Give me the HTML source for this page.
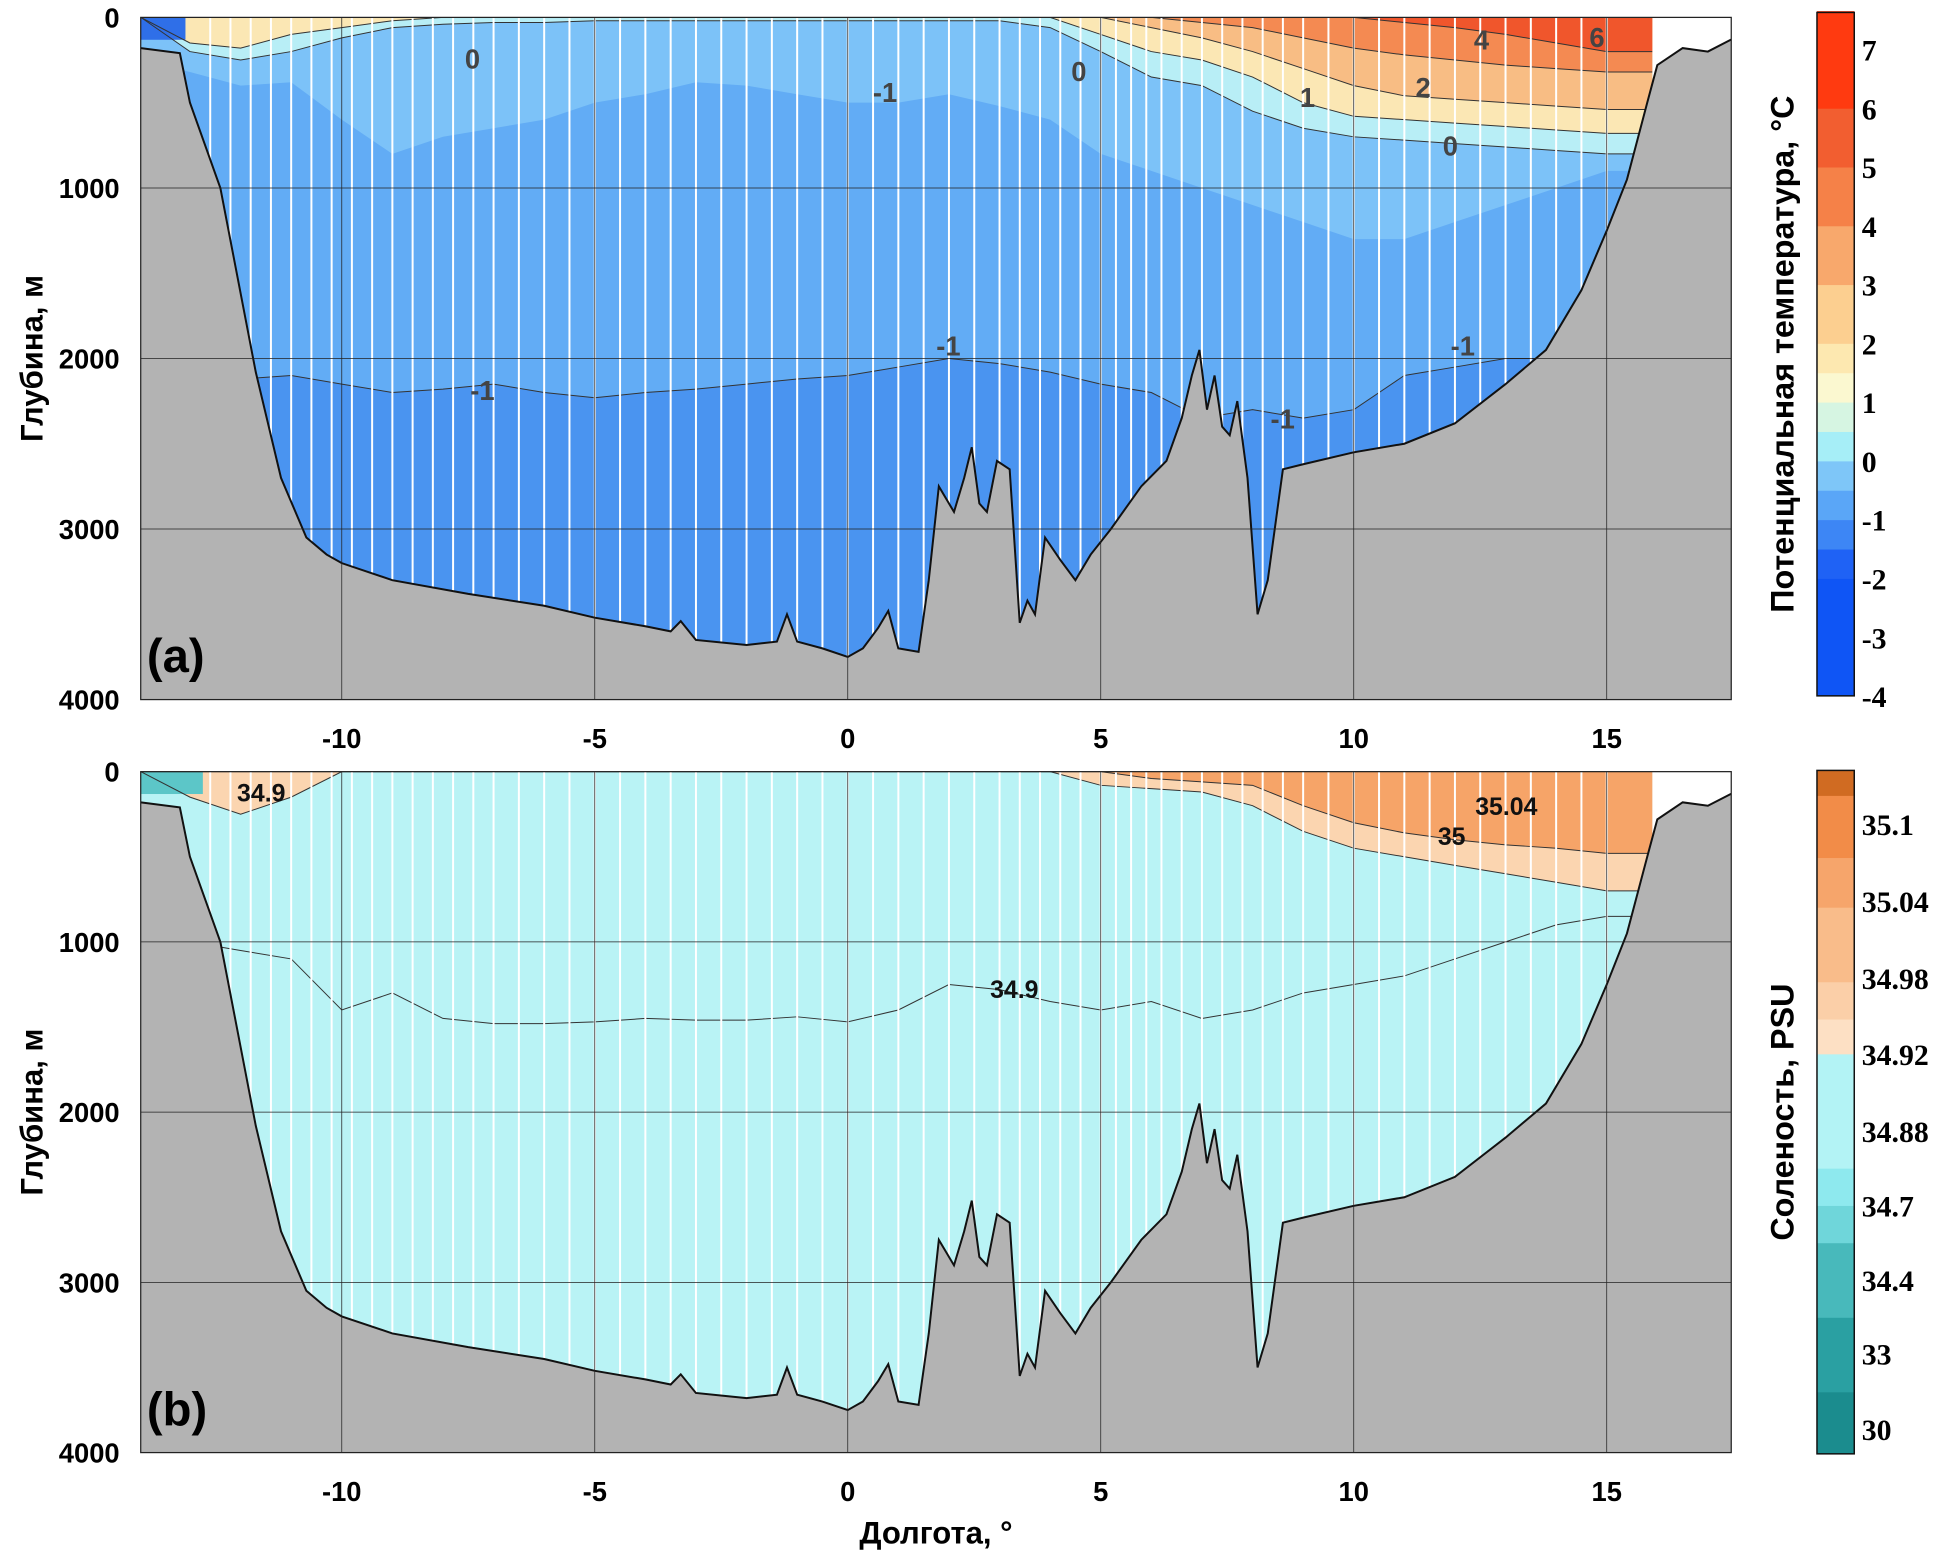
<!DOCTYPE html>
<html><head><meta charset="utf-8"><style>
html,body{margin:0;padding:0;background:#fff;}
svg{display:block;}
text{font-family:"Liberation Sans",sans-serif;font-weight:bold;}
.ser{font-family:"Liberation Serif",serif;}
</style></head><body>
<svg id="fig" width="1949" height="1552" viewBox="0 0 1568 1249" xmlns="http://www.w3.org/2000/svg"></svg>
<script>
// ---- data ----
const bathyLon=[-13.97,-13.2,-13.0,-12.4,-11.7,-11.2,-10.7,-10.3,-10,-9,-7.5,-6,-5,-4,-3.5,-3.3,-3,-2,-1.4,-1.2,-1,-0.5,0,0.3,0.6,0.8,1.0,1.4,1.6,1.8,2.1,2.3,2.45,2.6,2.75,2.95,3.2,3.4,3.55,3.7,3.9,4.2,4.5,4.8,5.2,5.8,6.3,6.6,6.8,6.95,7.1,7.25,7.4,7.55,7.7,7.9,8.1,8.3,8.6,9,10,11,12,13,13.8,14.5,15,15.4,15.8,16,16.5,17,17.46];
const bathyDep=[180,210,500,1000,2080,2700,3050,3150,3200,3300,3380,3450,3520,3570,3600,3540,3650,3680,3660,3500,3660,3700,3750,3700,3580,3480,3700,3720,3300,2750,2900,2700,2520,2850,2900,2600,2650,3550,3420,3500,3050,3180,3300,3150,3000,2750,2600,2350,2100,1950,2300,2100,2400,2450,2250,2700,3500,3300,2650,2620,2550,2500,2380,2150,1950,1600,1250,950,500,280,180,200,130];
const stationLon=[-12.6,-12.2,-11.8,-11.4,-11,-10.6,-10.2,-9.8,-9.4,-9,-8.6,-8.2,-7.8,-7.4,-7,-6.5,-6,-5.5,-5,-4.5,-4,-3.5,-3,-2.5,-2,-1.5,-1,-0.5,0,0.5,1,1.5,2,2.5,3,3.4,3.8,4.2,4.6,5,5.3,5.6,5.9,6.2,6.6,7,7.4,7.8,8.2,8.6,9,9.5,10,10.5,11,11.5,12,12.5,13,13.5,14,14.5,15];
// temperature isolines (depths in m)
const tLon=[-13.97,-13,-12,-11,-10,-9,-8,-7,-6,-5,-4,-3,-2,-1,0,1,2,3,4,5,6,7,8,9,10,11,12,13,14,15,16];
const tDeepM1=[2150,2150,2120,2100,2150,2200,2180,2150,2200,2230,2200,2180,2150,2120,2100,2050,2000,2030,2080,2150,2200,2350,2300,2350,2300,2100,2050,2000,2000,2000,2000];
const tUpper=[250,320,400,380,600,800,700,650,600,500,450,380,400,450,500,500,450,520,600,800,900,1000,1100,1200,1300,1300,1200,1100,1000,900,900];
const tZero=[0,200,250,200,120,60,40,30,30,20,20,20,20,20,20,20,20,20,60,200,350,400,550,650,700,720,740,760,780,800,800];
const tOne=[0,150,180,100,60,20,0,0,0,0,0,0,0,0,0,0,0,0,0,100,200,250,350,500,580,600,620,640,660,680,680];
const tTwo=[0,0,0,0,0,0,0,0,0,0,0,0,0,0,0,0,0,0,0,0,60,120,200,300,400,460,480,500,520,540,540];
const tFour=[0,0,0,0,0,0,0,0,0,0,0,0,0,0,0,0,0,0,0,0,0,30,60,120,180,220,250,280,300,320,320];
const tSix=[0,0,0,0,0,0,0,0,0,0,0,0,0,0,0,0,0,0,0,0,0,0,0,0,0,30,60,100,150,200,200];
// salinity isolines
const sLon=tLon;
const s349=[950,1000,1050,1100,1400,1300,1450,1480,1480,1470,1450,1460,1460,1440,1470,1400,1250,1280,1350,1400,1350,1450,1400,1300,1250,1200,1100,1000,900,850,850];
const s3492=[0,150,250,150,0,0,0,0,0,0,0,0,0,0,0,0,0,0,0,80,100,120,200,350,450,500,550,600,650,700,700];
const s350=[0,0,0,0,0,0,0,0,0,0,0,0,0,0,0,0,0,0,0,0,40,60,80,200,300,360,400,430,450,480,480];
const tTicks=[-4,-3,-2,-1,0,1,2,3,4,5,6,7];
const tBarLevels=[-4,-2,-1.5,-1,-0.5,0,0.5,1,1.5,2,3,4,5,6,7.65];
const tBarColors=["#0f55f5","#1f62f5","#3d86f5","#5aa6f7","#7ec6f8","#a6eef7","#d6f5e2","#fbf8d0","#fde8b0","#fccf90","#f8a86c","#f58148","#f25e30","#ff3a10"];
const sTicks=["30","33","34.4","34.7","34.88","34.92","34.98","35.04","35.1"];
const sTickY=[1150,1089,1030,970,910,848,787,725,663];
// ---- scales ----
const X0=113,X1=1393, lonX=l=>682+l*40.72;
const panels=[{top:14,bot:563},{top:621,bot:1169}];
const dY=(p,d)=>p.top+d*(p.bot-p.top)/4000;
const NS="http://www.w3.org/2000/svg";
const svg=document.getElementById('fig');
function mk(t,a,parent){const e=document.createElementNS(NS,t);for(const k in a)e.setAttribute(k,a[k]);(parent||svg).appendChild(e);return e;}
function lineD(p,lons,deps){return lons.map((l,i)=>(i?'L':'M')+lonX(l).toFixed(1)+','+dY(p,deps[i]).toFixed(1)).join('');}
function bandD(p,lons,top,bot){let d=lineD(p,lons,top);for(let i=lons.length-1;i>=0;i--)d+='L'+lonX(lons[i]).toFixed(1)+','+dY(p,bot[i]).toFixed(1);return d+'Z';}
function bathyAt(l){for(let i=1;i<bathyLon.length;i++)if(l<=bathyLon[i]){const f=(l-bathyLon[i-1])/(bathyLon[i]-bathyLon[i-1]);return bathyDep[i-1]+f*(bathyDep[i]-bathyDep[i-1]);}return bathyDep[bathyDep.length-1];}
const zeros=tLon.map(()=>0), deep=tLon.map(()=>4000);

panels.forEach((p,pi)=>{
  const g=mk('g',{});
  
  
  const cid='clip'+pi;
  const cp=mk('clipPath',{id:cid},g);
  mk('rect',{x:X0,y:p.top,width:lonX(15.9)-X0,height:p.bot-p.top},cp);
  const fg=mk('g',{'clip-path':`url(#${cid})`},g);
  if(pi===0){
    mk('path',{d:bandD(p,tLon,zeros,deep),fill:'#4a94f0'},fg);
    mk('path',{d:bandD(p,tLon,zeros,tDeepM1),fill:'#62acf5'},fg);
    mk('path',{d:bandD(p,tLon,zeros,tUpper),fill:'#7cc2f8'},fg);
    mk('path',{d:bandD(p,tLon,zeros,tZero),fill:'#b8eef6'},fg);
    mk('path',{d:bandD(p,tLon,zeros,tOne),fill:'#fbe7b4'},fg);
    mk('path',{d:bandD(p,tLon,zeros,tTwo),fill:'#f8bd84'},fg);
    mk('path',{d:bandD(p,tLon,zeros,tFour),fill:'#f48a52'},fg);
    mk('path',{d:bandD(p,tLon,zeros,tSix),fill:'#f0562c'},fg);
    mk('rect',{x:X0,y:p.top,width:36,height:18,fill:'#2f6fe8'},fg);
    [tDeepM1,tZero,tOne,tTwo,tFour,tSix].forEach(a=>mk('path',{d:lineD(p,tLon,a),fill:'none',stroke:'#333','stroke-width':0.8},fg));
  } else {
    mk('path',{d:bandD(p,sLon,zeros,deep),fill:'#b9f3f5'},fg);
    mk('path',{d:bandD(p,sLon,zeros,s3492),fill:'#fbd5b0'},fg);
    mk('path',{d:bandD(p,sLon,zeros,s350),fill:'#f6a468'},fg);
    mk('rect',{x:X0,y:p.top,width:50,height:18,fill:'#5cc6c8'},fg);
    [s349,s3492,s350].forEach(a=>mk('path',{d:lineD(p,sLon,a),fill:'none',stroke:'#333','stroke-width':0.8},fg));
  }
  // stations
  stationLon.forEach(l=>{const s=mk('line',{x1:lonX(l),x2:lonX(l),y1:p.top,y2:dY(p,bathyAt(l)),stroke:'#fff','stroke-width':1.6},fg);
    });
  // bathymetry
  let bd=lineD(p,bathyLon,bathyDep);
  const b=mk('path',{d:bd+`L${X1},${p.bot}L${X0},${p.bot}Z`,fill:'#b3b3b3'},g);
  
  mk('path',{d:bd,fill:'none',stroke:'#111','stroke-width':1.6},g);
  // grid
  [-10,-5,0,5,10,15].forEach(l=>mk('line',{x1:lonX(l),x2:lonX(l),y1:p.top,y2:p.bot,stroke:'#222','stroke-width':0.6},g));
  [1000,2000,3000].forEach(d=>mk('line',{x1:X0,x2:X1,y1:dY(p,d),y2:dY(p,d),stroke:'#222','stroke-width':0.6},g));
  mk('rect',{x:X0,y:p.top,width:X1-X0,height:p.bot-p.top,fill:'none',stroke:'#222','stroke-width':1},g);
  [0,1000,2000,3000,4000].forEach(d=>{const t=mk('text',{x:96,y:dY(p,d)+8,'text-anchor':'end','font-size':22},g);t.textContent=d;
    });
  [-10,-5,0,5,10,15].forEach(l=>{const t=mk('text',{x:lonX(l),y:p.bot+39,'text-anchor':'middle','font-size':22},g);t.textContent=l;
    });
  const yt=mk('text',{transform:`translate(34,${(p.top+p.bot)/2}) rotate(-90)`,'text-anchor':'middle','font-size':25},g);yt.textContent='Глубина, м';
  
  const pl=mk('text',{x:118,y:p.bot-22,'font-size':38},g);pl.textContent=pi?'(b)':'(a)';
  
});
// contour labels
[[380,55,'0'],[868,65,'0'],[712,82,'-1'],[1052,86,'1'],[1145,78,'2'],[1167,125,'0'],[1192,40,'4'],[1285,38,'6'],[388,322,'-1'],[763,286,'-1'],[1177,286,'-1'],[1032,345,'-1']].forEach(c=>{
  const t=mk('text',{x:c[0],y:c[1],'text-anchor':'middle','font-size':22,fill:'#444'});t.textContent=c[2];
  });
[[210,645,'34.9'],[1212,656,'35.04'],[1168,680,'35'],[816,803,'34.9']].forEach(c=>{
  const t=mk('text',{x:c[0],y:c[1],'text-anchor':'middle','font-size':20,fill:'#111'});t.textContent=c[2];
  });
const xt=mk('text',{x:753,y:1242,'text-anchor':'middle','font-size':25});xt.textContent='Долгота, °';

// temperature colorbar
const cb={x:1462,w:30,top:10,bot:560};
const tv=v=>cb.bot-(v+4)*47.3;
for(let i=0;i<tBarLevels.length-1;i++){const r=mk('rect',{x:cb.x,y:tv(tBarLevels[i+1]),width:cb.w,height:tv(tBarLevels[i])-tv(tBarLevels[i+1])+0.5,fill:tBarColors[i]});
  }
mk('rect',{x:cb.x,y:cb.top,width:cb.w,height:cb.bot-cb.top,fill:'none',stroke:'#111','stroke-width':1.2});
tTicks.forEach(v=>{const t=mk('text',{x:1498,y:tv(v)+9,'font-size':24,class:'ser'});t.textContent=v;
  });
const ct=mk('text',{transform:'translate(1443,285) rotate(-90)','text-anchor':'middle','font-size':26});ct.textContent='Потенциальная температура, °C';

// salinity colorbar
const sb={top:620,bot:1170};
const sColors=["#1b8c8e","#2aa0a2","#48b9bb","#6fd6da","#8ee9ee","#b3f3f5","#fde0c4","#fbcfa8","#f9bc8a","#f6a56b","#f28c48","#d06b22"];
const sEdges=[1170,1120,1060,1000,970,940,848,820,790,730,690,640,620];
for(let i=0;i<sColors.length;i++){const r=mk('rect',{x:cb.x,y:sEdges[i+1],width:cb.w,height:sEdges[i]-sEdges[i+1]+0.5,fill:sColors[i]});
  }
mk('rect',{x:cb.x,y:sb.top,width:cb.w,height:sb.bot-sb.top,fill:'none',stroke:'#111','stroke-width':1.2});
sTicks.forEach((v,i)=>{const t=mk('text',{x:1498,y:sTickY[i]+9,'font-size':24,class:'ser'});t.textContent=v;
  });
const st=mk('text',{transform:'translate(1443,895) rotate(-90)','text-anchor':'middle','font-size':26});st.textContent='Соленость, PSU';

</script>
</body></html>
